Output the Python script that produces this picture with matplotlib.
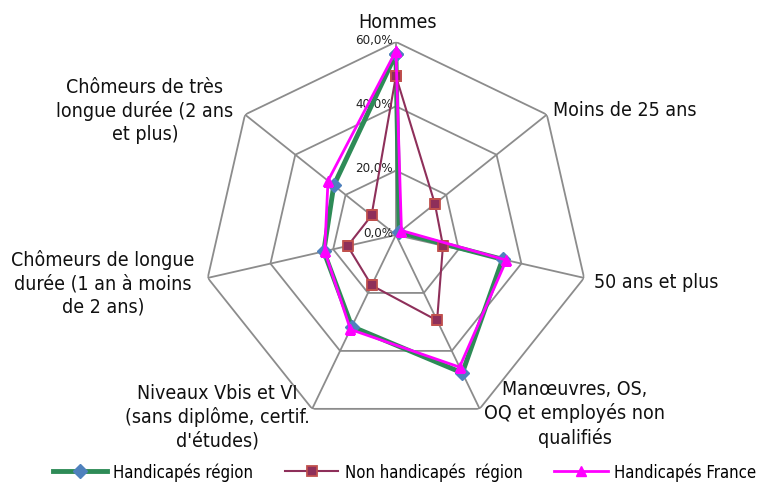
import numpy as np
from matplotlib import pyplot as plt

# categories, clockwise from the top
categories = ["Hommes", "Moins de 25 ans", "50 ans et plus",
              "Manœuvres, OS,\nOQ et employés non\nqualifiés",
              "Niveaux Vbis et VI\n(sans diplôme, certif.\nd'études)",
              "Chômeurs de longue\ndurée (1 an à moins\nde 2 ans)",
              "Chômeurs de très\nlongue durée (2 ans\net plus)"]

handi_region = [56.3, 1.3, 34.0, 47.6, 31.6, 23.0, 24.7]
non_handi_region = [49.4, 15.5, 15.0, 29.5, 17.4, 15.4, 9.7]
handi_france = [57.2, 2.2, 35.2, 45.6, 32.6, 22.7, 27.0]

ring_values = [20, 40, 60]
tick_labels = ["0,0%", "20,0%", "40,0%", "60,0%"]

plt.rcParams['font.family'] = ['DejaVu Sans']
plt.rcParams['font.stretch'] = 'condensed'

fig = plt.figure(figsize=(7.57, 4.85), dpi=100)
ax = fig.add_axes([0.268, 0.1155, 0.51, 0.796], polar=True)
ax.set_theta_zero_location('N')
ax.set_theta_direction(-1)
ax.set_ylim(0, 60)
ax.grid(False)
ax.set_xticks([])
ax.set_yticks([])
ax.spines['polar'].set_visible(False)

n = len(categories)
angles = np.arange(n) * 2 * np.pi / n
closed = np.append(angles, angles[0])

grid_col = "#8c8c8c"
for r in ring_values:
    ax.plot(closed, [r] * (n + 1), color=grid_col, lw=1.3, zorder=1)
for a in angles:
    ax.plot([a, a], [0, 60], color=grid_col, lw=1.3, zorder=1)

for i, lab in enumerate(tick_labels):
    ax.annotate(lab, xy=(0, i * 20), xytext=(-2, 2), textcoords='offset points',
                ha='right', va='center', fontsize=9.5, color="#222222")

def closed_vals(v):
    return list(v) + [v[0]]

ax.plot(closed, closed_vals(handi_region), color="#2e8b57", lw=3.5, marker='D',
        ms=7, mfc="#4f81bd", mec="#4f81bd", label="Handicapés région", zorder=3)
ax.plot(closed, closed_vals(non_handi_region), color="#8e2f5a", lw=1.5, marker='s',
        ms=6.5, mfc="#8e2f5a", mec="#c0504d", mew=1.3, label="Non handicapés  région", zorder=4)
ax.plot(closed, closed_vals(handi_france), color="#ff00ff", lw=2, marker='^',
        ms=7, mfc="#ff00ff", mec="#ff00ff", label="Handicapés France", zorder=5)

# category labels (figure pixel positions)
W, H = 757, 485
label_pos = [(398, 22, 'center'), (553, 110, 'left'), (594, 283, 'left'),
             (575, 414, 'center'), (217, 417, 'center'), (103, 283, 'center'),
             (145, 111, 'center')]
for lab, (x, y, ha) in zip(categories, label_pos):
    fig.text(x / W, 1 - y / H, lab, ha=ha, va='center', fontsize=14,
             multialignment='center', linespacing=1.28, color="#111111")

fig.legend(loc='lower center', bbox_to_anchor=(0.535, -0.024), ncol=3, frameon=False,
           fontsize=12, handlelength=3.2, columnspacing=1.9, handletextpad=0.4)

fig.savefig("out.png", dpi=100, facecolor='white')
